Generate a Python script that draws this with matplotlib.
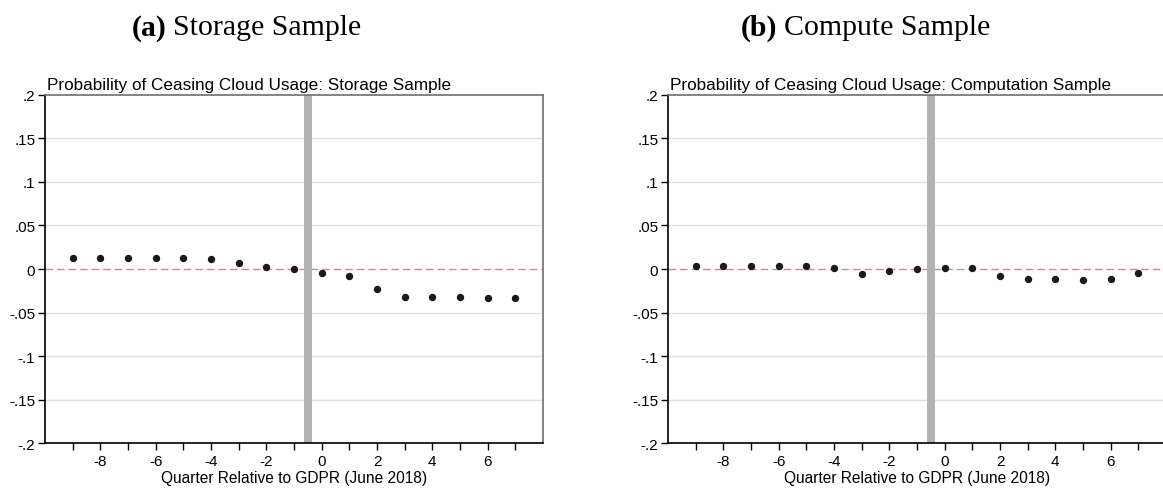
import numpy as np
import matplotlib.pyplot as plt

quarters = list(range(-9, 8))
storage = [0.0122, 0.0122, 0.0122, 0.0122, 0.0122, 0.0120, 0.0065, 0.0027, -0.0004,
           -0.0042, -0.0084, -0.0229, -0.0317, -0.0317, -0.0317, -0.0336, -0.0336]
compute = [0.0038, 0.0038, 0.0038, 0.0038, 0.0038, 0.0015, -0.0057, -0.0027, -0.0004,
           0.0015, 0.0015, -0.0080, -0.0115, -0.0115, -0.0126, -0.0115, -0.0050]
yticks = [-0.2, -0.15, -0.1, -0.05, 0, 0.05, 0.1, 0.15, 0.2]
ylabels = ['-.2', '-.15', '-.1', '-.05', '0', '.05', '.1', '.15', '.2']
xlabels = [-8, -6, -4, -2, 0, 2, 4, 6]

plt.rcParams['font.family'] = ['Liberation Sans', 'DejaVu Sans']

fig = plt.figure(figsize=(11.63, 4.89), dpi=100)
renderer = fig.canvas.get_renderer()

panels = [
    (0.0387, storage, '(a)', 'Storage Sample',
     'Probability of Ceasing Cloud Usage: Storage Sample', 132),
    (0.5744, compute, '(b)', 'Compute Sample',
     'Probability of Ceasing Cloud Usage: Computation Sample', 741),
]

for left, vals, tag, name, inner, x0 in panels:
    ax = fig.add_axes([left, 0.092, 0.4282, 0.7117])
    for y in [-0.15, -0.1, -0.05, 0.05, 0.1, 0.15]:
        ax.axhline(y, color='#e0e0e0', lw=1, zorder=0)
    ax.axhline(0, color='#cf8a8a', lw=1, ls=(0, (5.5, 2.8)), zorder=1)
    ax.axvspan(-0.65, -0.35, color='#b3b3b3', lw=0, zorder=2)
    ax.plot(quarters, vals, 'o', color='#1a1a1a', ms=4.3, zorder=3)
    ax.set_xlim(-10, 8)
    ax.set_ylim(-0.2, 0.2)
    ax.set_yticks(yticks)
    ax.set_yticklabels(ylabels, fontsize=11)
    ax.set_xticks(quarters)
    ax.set_xticklabels([str(q) if q in xlabels else '' for q in quarters], fontsize=11)
    ax.tick_params(length=5, width=1, pad=2, color='black')
    ax.tick_params(axis='x', pad=3)
    ax.set_xlabel('Quarter Relative to GDPR (June 2018)', fontsize=11.2, labelpad=1.5)
    for s in ['left', 'bottom']:
        ax.spines[s].set_color('black')
        ax.spines[s].set_linewidth(1.2)
    for s in ['top', 'right']:
        ax.spines[s].set_color('#6e6e6e')
        ax.spines[s].set_linewidth(1.2)
    ax.text(0.003, 1.008, inner, transform=ax.transAxes, fontsize=12.3,
            ha='left', va='bottom')
    t = fig.text(x0 / 1163, 0.928, tag, fontsize=21.5, fontweight='bold', ha='left',
                 va='baseline', family='Liberation Serif')
    bb = t.get_window_extent(renderer)
    fig.text((bb.x1 + 6) / 1163, 0.928, name, fontsize=21.5, ha='left',
             va='baseline', family='Liberation Serif')

fig.savefig('out.png', dpi=100)
